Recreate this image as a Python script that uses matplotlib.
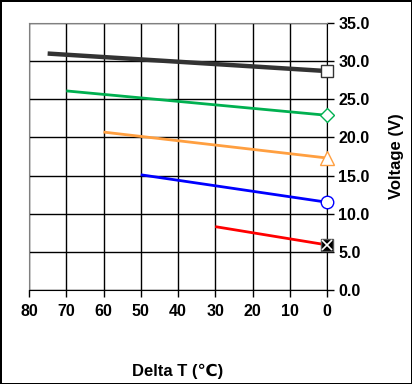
import numpy as np
import matplotlib.pyplot as plt

plt.rcParams['font.family'] = ['Liberation Sans', 'DejaVu Sans']

# series: start Delta T, start voltage, end voltage (at Delta T = 0)
black_x = [75, 0]
black_y = [31.0, 28.7]
green_x = [70, 0]
green_y = [26.1, 22.9]
orange_x = [60, 0]
orange_y = [20.7, 17.3]
blue_x = [50, 0]
blue_y = [15.1, 11.5]
red_x = [30, 0]
red_y = [8.3, 5.9]

xticks = [80, 70, 60, 50, 40, 30, 20, 10, 0]
yticks = [0, 5, 10, 15, 20, 25, 30, 35]

fig = plt.figure(figsize=(4.12, 3.84), dpi=100)
fig.patch.set_edgecolor('black')
fig.patch.set_linewidth(2)
ax = fig.add_axes([0.0704, 0.245, 0.7233, 0.695])

ax.set_xlim(80, 0)
ax.set_ylim(0, 35)
ax.set_xticks(xticks)
ax.set_yticks(yticks)
ax.set_xticklabels([str(t) for t in xticks], fontsize=11.5, fontweight='bold')
ax.yaxis.tick_right()
ax.yaxis.set_label_position('right')
ax.set_yticklabels(['%.1f' % t for t in yticks], fontsize=11.5, fontweight='bold')
ax.tick_params(axis='x', direction='out', length=5, width=1, pad=5)
ax.tick_params(axis='y', direction='out', length=5, width=1, pad=3)
ax.grid(True, color='black', linewidth=1)
ax.set_axisbelow(True)
for s in ['left', 'top']:
    ax.spines[s].set_color('#808080')
for s in ['right', 'bottom']:
    ax.spines[s].set_color('black')

ax.plot(black_x, black_y, color='#333333', linewidth=3.2, solid_capstyle='butt')
ax.plot(green_x, green_y, color='#00B050', linewidth=2, solid_capstyle='butt')
ax.plot(orange_x, orange_y, color='#FF9F40', linewidth=2, solid_capstyle='butt')
ax.plot(blue_x, blue_y, color='#0000FF', linewidth=2, solid_capstyle='butt')
ax.plot(red_x, red_y, color='#FF0000', linewidth=2, solid_capstyle='butt')

ax.plot(black_x[-1], black_y[-1], marker='s', markersize=9, markerfacecolor='white',
        markeredgecolor='#333333', markeredgewidth=1, clip_on=False, zorder=5)
ax.plot(green_x[-1], green_y[-1], marker='D', markersize=7, markerfacecolor='white',
        markeredgecolor='#00B050', markeredgewidth=1, clip_on=False, zorder=5)
ax.plot(orange_x[-1], orange_y[-1], marker='^', markersize=10, markerfacecolor='white',
        markeredgecolor='#FF9F40', markeredgewidth=1, clip_on=False, zorder=5)
ax.plot(blue_x[-1], blue_y[-1], marker='o', markersize=9, markerfacecolor='white',
        markeredgecolor='#0000FF', markeredgewidth=1, clip_on=False, zorder=5)
ax.plot(red_x[-1], red_y[-1], marker='s', markersize=8, markerfacecolor='black',
        markeredgecolor='#555555', markeredgewidth=1, clip_on=False, zorder=5)
ax.plot(red_x[-1], red_y[-1], marker='x', markersize=7, color='white',
        markeredgewidth=1.2, clip_on=False, zorder=6)

ax.set_ylabel('Voltage (V)', fontsize=12, fontweight='bold', labelpad=14)
ax.set_xlabel('Delta T (\u2103)', fontsize=12, fontweight='bold', labelpad=32)

fig.savefig('out.png', dpi=100, edgecolor=fig.get_edgecolor())
